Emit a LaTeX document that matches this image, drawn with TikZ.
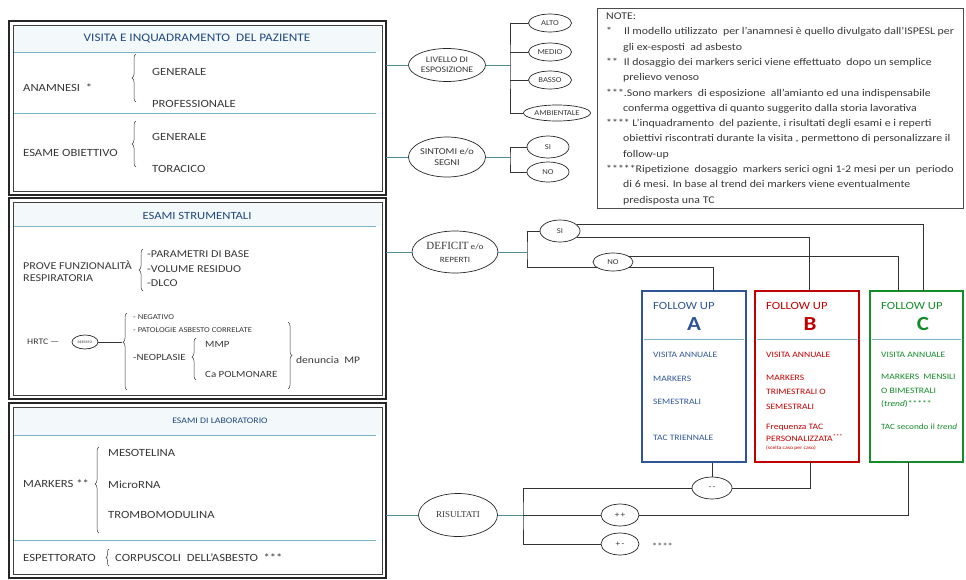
\documentclass[tikz,border=0pt]{standalone}
\usepackage{fontspec}
\setmainfont[FakeStretch=1.15]{Carlito}
\newfontfamily\titling{Liberation Serif}
\usetikzlibrary{shapes.geometric, decorations.pathreplacing}

\definecolor{headblue}{RGB}{31,73,125}
\definecolor{bodygrey}{RGB}{55,55,55}
\definecolor{rulecyan}{RGB}{120,180,200}
\definecolor{linkcyan}{RGB}{80,140,150}
\definecolor{bandfill}{RGB}{243,248,251}
\definecolor{fublue}{RGB}{47,85,151}
\definecolor{fured}{RGB}{192,0,0}
\definecolor{fugreen}{RGB}{20,140,40}

\newcommand{\sz}[2]{\fontsize{#1}{#2}\selectfont}

\tikzset{
	panel/.style={draw=black!85, line width=2.8pt},
	panelin/.style={draw=black!75, line width=0.8pt},
	sep/.style={draw=rulecyan, line width=0.6pt},
	head/.style={inner sep=0pt, text=headblue, font=\sz{11.5}{14}},
	item/.style={anchor=west, inner sep=0pt, text=bodygrey, font=\sz{11}{13}},
	tinyitem/.style={item, font=\sz{7.5}{9}},
	curly/.style={draw=bodygrey, line width=0.5pt, decorate, decoration={brace, amplitude=4pt}},
	oval/.style={ellipse, draw=black!85, line width=0.7pt, fill=white, inner sep=0pt, text=bodygrey, align=center},
	pill/.style={oval, minimum width=43pt, minimum height=18pt, font=\sz{7.5}{9}},
	link/.style={draw=linkcyan, line width=0.7pt},
	wire/.style={draw=black!80, line width=0.7pt},
	fubox/.style={rectangle, line width=2.2pt, minimum width=104pt, minimum height=171pt, inner sep=0pt},
	fuitem/.style={anchor=west, inner sep=0pt, font=\sz{8.3}{14.5}},
	notebox/.style={draw=black!70, line width=0.7pt}
}

\begin{document}
\begin{tikzpicture}[x=1pt, y=-1pt]
	\useasboundingbox (0,0) rectangle (966,579);
	\coordinate (panelE) at (386,0);

	\foreach \ya/\yb/\ys in {21/195/52, 198/399/226, 403/578/435}
	{
		\fill[bandfill] (14,\ya+5) rectangle (381,\ys);
		\draw[sep] (14,\ys) -- (376,\ys);
		\draw[panel] (9,\ya) rectangle (386,\yb);
		\draw[panelin] (13,\ya+4) rectangle (382,\yb-4);
	}
	\draw[sep] (14,113) -- (376,113);
	\draw[sep] (14,540) -- (376,540);

	\node[head] (tVis) at (197,39) {VISITA E INQUADRAMENTO\ \ DEL PAZIENTE};
	\node[item] (anam) at (23,88) {ANAMNESI\ \ *};
	\draw[curly] (136,102) -- (136,54);
	\node[item] (anamGen) at (152,72) {GENERALE};
	\node[item] (anamProf) at (152,104) {PROFESSIONALE};
	\node[item] (esame) at (23,153) {ESAME OBIETTIVO};
	\draw[curly] (136,167) -- (136,121);
	\node[item] (esGen) at (152,137) {GENERALE};
	\node[item] (esTor) at (152,169) {TORACICO};

	\node[head, font=\sz{11}{13}] (tStr) at (197,216) {ESAMI STRUMENTALI};
	\node[item, align=left, font=\sz{10.5}{12}] (prove) at (23,271) {PROVE FUNZIONALITÀ\\RESPIRATORIA};
	\draw[curly] (143,291) -- (143,249);
	\node[item, font=\sz{10.5}{12}] (param) at (147,254) {-PARAMETRI DI BASE};
	\node[item, font=\sz{10.5}{12}] (volume) at (147,269) {-VOLUME RESIDUO};
	\node[item, font=\sz{10.5}{12}] (dlco) at (147,283) {-DLCO};
	\node[item, font=\sz{8.5}{10}] (hrtc) at (27,342) {HRTC —};
	\node[oval, minimum width=26pt, minimum height=14pt, font=\sz{3.5}{4}] (referto) at (85,342) {REFERTO};
	\coordinate (resTip) at (122,342);
	\draw[curly, decoration={aspect=0.62}] (127,390) -- (127,313);
	\node[tinyitem] (neg) at (133,317) {- NEGATIVO};
	\node[tinyitem] (pat) at (133,330) {- PATOLOGIE ASBESTO CORRELATE};
	\node[item, font=\sz{9.5}{11}] (neo) at (133,357) {-NEOPLASIE};
	\draw[curly, decoration={aspect=0.55}] (196,380) -- (196,338);
	\node[item, font=\sz{9.5}{11}] (mmp) at (205,344) {MMP};
	\node[item, font=\sz{9.5}{11}] (capol) at (205,374) {Ca POLMONARE};
	\draw[curly] (288,322) -- (288,389);
	\node[item, font=\sz{10}{12}] (denuncia) at (296,360) {denuncia\ \ MP};

	\node[head, font=\sz{8.5}{10}] (tLab) at (220,421) {ESAMI DI LABORATORIO};
	\node[item] (markers) at (23,484) {MARKERS\ **};
	\draw[curly, decoration={aspect=0.57}] (99,533) -- (99,447);
	\node[item] (meso) at (108,453) {MESOTELINA};
	\node[item] (micro) at (108,485) {MicroRNA};
	\node[item] (trombo) at (108,515) {TROMBOMODULINA};
	\node[item] (espett) at (23,558) {ESPETTORATO};
	\draw[curly, decoration={amplitude=3pt}] (109,566) -- (109,549);
	\node[item] (corpus) at (115,558) {CORPUSCOLI\ \ DELL'ASBESTO\ \ ***};

	\draw[notebox] (597,8) rectangle (963,208);
	\node[anchor=north west, inner sep=0pt, align=left, text=bodygrey, font=\sz{10.3}{15.3}] (notes) at (606,12.7) {NOTE:\\
*\hspace{12pt}Il modello utilizzato\ \ per l'anamnesi è quello divulgato dall'ISPESL per\\
\hspace*{17pt}gli ex-esposti\ \ ad asbesto\\
**\hspace{6pt}Il dosaggio dei markers serici viene effettuato\ \ dopo un semplice\\
\hspace*{17pt}prelievo venoso\\
***.Sono markers\ \ di esposizione\ \ all'amianto ed una indispensabile\\
\hspace*{17pt}conferma oggettiva di quanto suggerito dalla storia lavorativa\\
****\ L'inquadramento\ \ del paziente, i risultati degli esami e i reperti\\
\hspace*{17pt}obiettivi riscontrati durante la visita , permettono di personalizzare il\\
\hspace*{17pt}follow-up\\
*****Ripetizione\ \ dosaggio\ \ markers serici ogni 1-2 mesi per un\ \ periodo\\
\hspace*{17pt}di 6 mesi. In base al trend dei markers viene eventualmente\\
\hspace*{17pt}predisposta una TC};

	\node[oval, minimum width=77pt, minimum height=33pt, font=\sz{8.5}{10}] (livello) at (447,65) {LIVELLO DI\\ESPOSIZIONE};
	\node[pill] (alto) at (550,23) {ALTO};
	\node[pill] (medio) at (550,52) {MEDIO};
	\node[pill] (basso) at (550,80) {BASSO};
	\node[pill, minimum width=67pt, minimum height=16pt] (ambient) at (557,113) {AMBIENTALE};
	\coordinate (jLiv) at (510,65);

	\node[oval, minimum width=77pt, minimum height=40pt, font=\sz{9}{11}] (sintomi) at (447,157) {SINTOMI e/o\\SEGNI};
	\node[pill, minimum width=42pt, minimum height=22pt] (siSint) at (548,147) {SI};
	\node[pill, minimum width=42pt, minimum height=20pt] (noSint) at (548,172) {NO};
	\coordinate (jSint) at (510,157);

	\node[oval, minimum width=86pt, minimum height=42pt, font=\sz{8}{13}] (deficit) at (455,252) {{\titling\sz{11}{13}DEFICIT} e/o\\REPERTI};
	\node[pill, minimum width=40pt, minimum height=22pt] (siDef) at (560,231) {SI};
	\node[pill, minimum width=40pt, minimum height=18pt] (noDef) at (613,262) {NO};
	\coordinate (jDef) at (527,252);

	\node[oval, minimum width=79pt, minimum height=43pt, font=\titling\sz{9}{11}] (risultati) at (458,515) {RISULTATI};
	\node[pill, minimum width=40pt, minimum height=22pt, font=\sz{8}{9}] (minus) at (712,488) {-\,-};
	\node[pill, minimum width=38pt, minimum height=22pt, font=\sz{8}{9}] (plus) at (620,515) {+\,+};
	\node[pill, minimum width=38pt, minimum height=22pt, font=\sz{8}{9}] (mixed) at (620,544) {+\,-};
	\node[item, font=\sz{9}{10}] (mixedStar) at (652,546) {****};
	\coordinate (jRis) at (523,515);

	\node[fubox, draw=fublue] (fuA) at (694,376.5) {};
	\node[fubox, draw=fured] (fuB) at (807,376.5) {};
	\node[fubox, draw=fugreen, minimum width=93pt] (fuC) at (916.5,376.5) {};
	\coordinate (aIn) at (713,291);
	\coordinate (bIn) at (809,291);
	\coordinate (cInNo) at (898,291);
	\coordinate (cInSi) at (923,291);
	\coordinate (bOut) at (810,462);
	\coordinate (cOut) at (908,462);

	\foreach \k/\lx/\cx/\col/\bl/\br in {A/653/694/fublue/644/744, B/766/810/fured/757/857, C/881/923/fugreen/872/961}
	{
		\node[anchor=west, inner sep=0pt, text=\col, font=\sz{11}{13}] (head\k) at (\lx,306) {FOLLOW UP};
		\node[inner sep=0pt, text=\col, font=\sz{20}{22}\bfseries] (letter\k) at (\cx,324) {\k};
		\draw[sep] (\bl,339) -- (\br,339);
	}

	\node[fuitem, text=fublue] (aVisita) at (653,355) {VISITA ANNUALE};
	\node[fuitem, text=fublue] (aMarkers) at (653,379) {MARKERS};
	\node[fuitem, text=fublue] (aSemestr) at (653,402) {SEMESTRALI};
	\node[fuitem, text=fublue] (aTac) at (653,438) {TAC TRIENNALE};

	\node[fuitem, text=fured] (bVisita) at (766,355) {VISITA ANNUALE};
	\node[fuitem, text=fured, align=left] (bMarkers) at (766,392) {MARKERS\\TRIMESTRALI O\\SEMESTRALI};
	\node[fuitem, text=fured, align=left, font=\sz{8.3}{12}] (bTac) at (766,433) {Frequenza TAC\\PERSONALIZZATA\textsuperscript{***}};
	\node[fuitem, text=fured, font=\sz{5}{6}] (bCaso) at (766,448) {(scelta caso per caso)};

	\node[fuitem, text=fugreen] (cVisita) at (881,355) {VISITA ANNUALE};
	\node[fuitem, text=fugreen, align=left, font=\sz{8.3}{13.5}] (cMarkers) at (881,391) {MARKERS\ \ MENSILI\\O BIMESTRALI\\(\textit{trend})*****};
	\node[fuitem, text=fugreen, font=\sz{8}{14}] (cTac) at (881,427) {TAC secondo il \textit{trend}};

	\begin{scope}[link]
		\draw (livello.west -| panelE) -- (livello.west);
		\draw (livello.east) -- (jLiv);
		\draw (sintomi.west -| panelE) -- (sintomi.west);
		\draw (sintomi.east) -- (jSint);
		\draw (deficit.west -| panelE) -- (deficit.west);
		\draw (deficit.east) -- (jDef);
		\draw (risultati.west -| panelE) -- (risultati.west);
		\draw (risultati.east) -- (jRis);
	\end{scope}

	\begin{scope}[wire]
		\draw (referto.east) -- (resTip);
		\draw (alto.west) -| (jLiv) |- (ambient.west);
		\foreach \n in {medio, basso}
			\draw (\n.west) -- (\n.west -| jLiv);
		\draw (siSint.west) -| (jSint) |- (noSint.west);
		\draw (siDef.west) -| (jDef) |- (noDef.200);
		\draw (siDef.20) -| (cInSi);
		\draw (siDef.-20) -| (bIn);
		\draw (noDef.20) -| (cInNo);
		\draw (noDef.-20) -| (aIn);
		\draw (jRis) -- (plus.west);
		\draw (minus.west) -| (jRis) |- (mixed.west);
		\draw (minus.north) -- (minus.north |- fuA.south);
		\draw (minus.east) -| (bOut);
		\draw (plus.east) -| (cOut);
	\end{scope}
\end{tikzpicture}
\end{document}
